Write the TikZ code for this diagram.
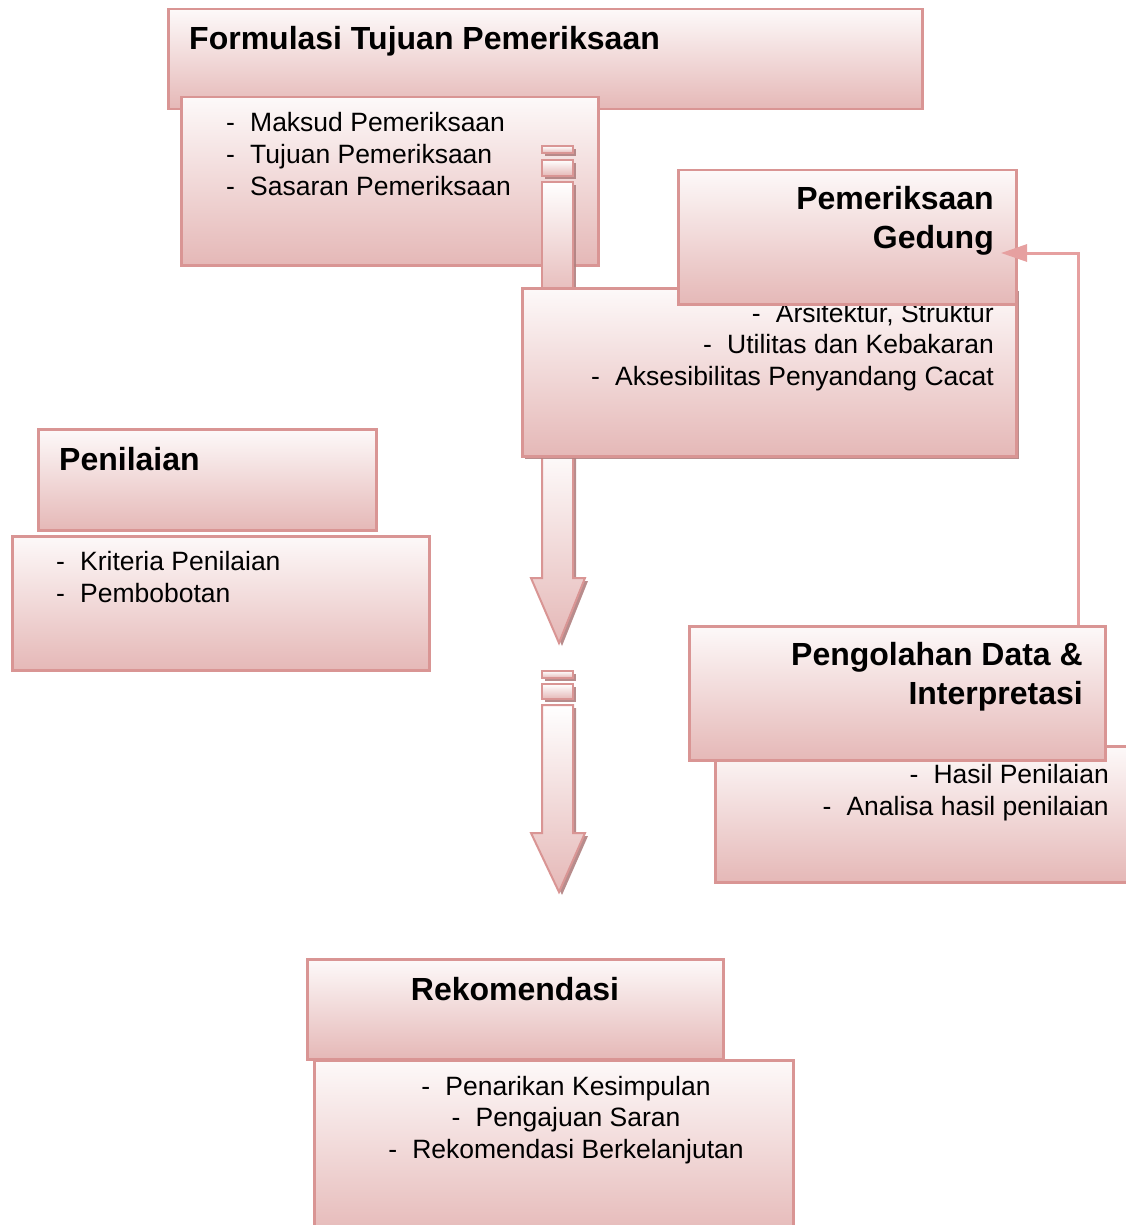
\documentclass[tikz,border=0pt]{standalone}
\usepackage{fontspec}
\setmainfont{Liberation Sans}
\usetikzlibrary{arrows.meta}
\usetikzlibrary{shadows}

\definecolor{boxline}{RGB}{217,149,148}
\definecolor{boxtop}{RGB}{253,249,249}
\definecolor{boxbot}{RGB}{229,184,183}
\definecolor{shadowc}{RGB}{176,128,128}
\definecolor{linkc}{RGB}{230,160,160}

\newcommand{\dashitem}{\makebox[24pt][l]{-}}

\tikzset{
  box/.style={draw=boxline, line width=2.5pt, top color=boxtop, bottom color=boxbot, anchor=north west, inner sep=0pt},
  shd/.style={drop shadow={shadow xshift=3pt, shadow yshift=-3pt, fill=shadowc, opacity=0.9}},
  ttl/.style={font=\fontsize{32}{39}\selectfont\bfseries, inner sep=0pt},
  lst/.style={font=\fontsize{26.5}{31.5}\selectfont, inner sep=0pt},
  blk/.style={draw=boxline, line width=2pt, top color=white, bottom color=boxbot, shd},
  link/.style={draw=linkc, line width=3pt, -{Triangle[length=26pt,width=17pt]}}
}

\begin{document}
\begin{tikzpicture}[x=1pt,y=-1pt]
\useasboundingbox (0,0) rectangle (1126,1225);

% Formulasi
\node[box, minimum width=754pt, minimum height=100pt] (formT) at (167,8) {};
\node[ttl, anchor=base west] (formTt) at (189,50) {Formulasi Tujuan Pemeriksaan};
\node[box, minimum width=417pt, minimum height=168pt] (formC) at (180,96) {};
\node[lst, anchor=base west, align=left] (formCt) at (226,195) {\dashitem Maksud Pemeriksaan\\ \dashitem Tujuan Pemeriksaan\\ \dashitem Sasaran Pemeriksaan};

% panah 1
\path[blk] (542,146) rectangle (573,153);
\path[blk] (542,160) rectangle (573,176);
\path[blk] (542,182) rectangle (573,300);
\path[blk] (542,440) -- (573,440) -- (573,578) -- (585,578) -- (559,643) -- (531,578) -- (542,578) -- cycle;

% Pemeriksaan Gedung
\node[box, shd, minimum width=494pt, minimum height=168pt] (gedC) at (521,287) {};
\node[lst, anchor=base east, align=right] (gedCt) at (994,385) {\dashitem Arsitektur, Struktur\\ \dashitem Utilitas dan Kebakaran\\ \dashitem Aksesibilitas Penyandang Cacat};
\node[box, minimum width=338pt, minimum height=134pt] (gedT) at (677,169) {};
\node[ttl, anchor=base east, align=right] (gedTt) at (994,248) {Pemeriksaan\\Gedung};

% Penilaian
\node[box, minimum width=338pt, minimum height=101pt] (nilT) at (37,428) {};
\node[ttl, anchor=base west] (nilTt) at (59,470) {Penilaian};
\node[box, minimum width=417pt, minimum height=134pt] (nilC) at (11,535) {};
\node[lst, anchor=base west, align=left] (nilCt) at (56,602) {\dashitem Kriteria Penilaian\\ \dashitem Pembobotan};

% Pengolahan Data
\node[box, minimum width=424pt, minimum height=136pt] (olahC) at (714,745) {};
\node[lst, anchor=base east, align=right] (olahCt) at (1109,815) {\dashitem Hasil Penilaian\\ \dashitem Analisa hasil penilaian};
\node[box, minimum width=416pt, minimum height=134pt] (olahT) at (688,625) {};
\node[ttl, anchor=base east, align=right] (olahTt) at (1083,704) {Pengolahan Data \&\\Interpretasi};

% umpan balik
\coordinate (gedTurn) at (1078,253);
\coordinate (gedTip) at (1001,253);
\draw[link] (olahT.north -| gedTurn) -- (gedTurn) -- (gedTip);

% panah 2
\path[blk] (542,671) rectangle (573,678);
\path[blk] (542,684) rectangle (573,699);
\path[blk] (542,705) -- (573,705) -- (573,833) -- (585,833) -- (559,892) -- (531,833) -- (542,833) -- cycle;

% Rekomendasi
\node[box, minimum width=416pt, minimum height=100pt] (rekT) at (306,958) {};
\node[ttl, anchor=base] (rekTt) at (515,1000) {Rekomendasi};
\node[box, minimum width=479pt, minimum height=180pt] (rekC) at (313,1059) {};
\node[lst, anchor=base, align=center] (rekCt) at (566,1158) {\dashitem Penarikan Kesimpulan\\ \dashitem Pengajuan Saran\\ \dashitem Rekomendasi Berkelanjutan};
\end{tikzpicture}
\end{document}
